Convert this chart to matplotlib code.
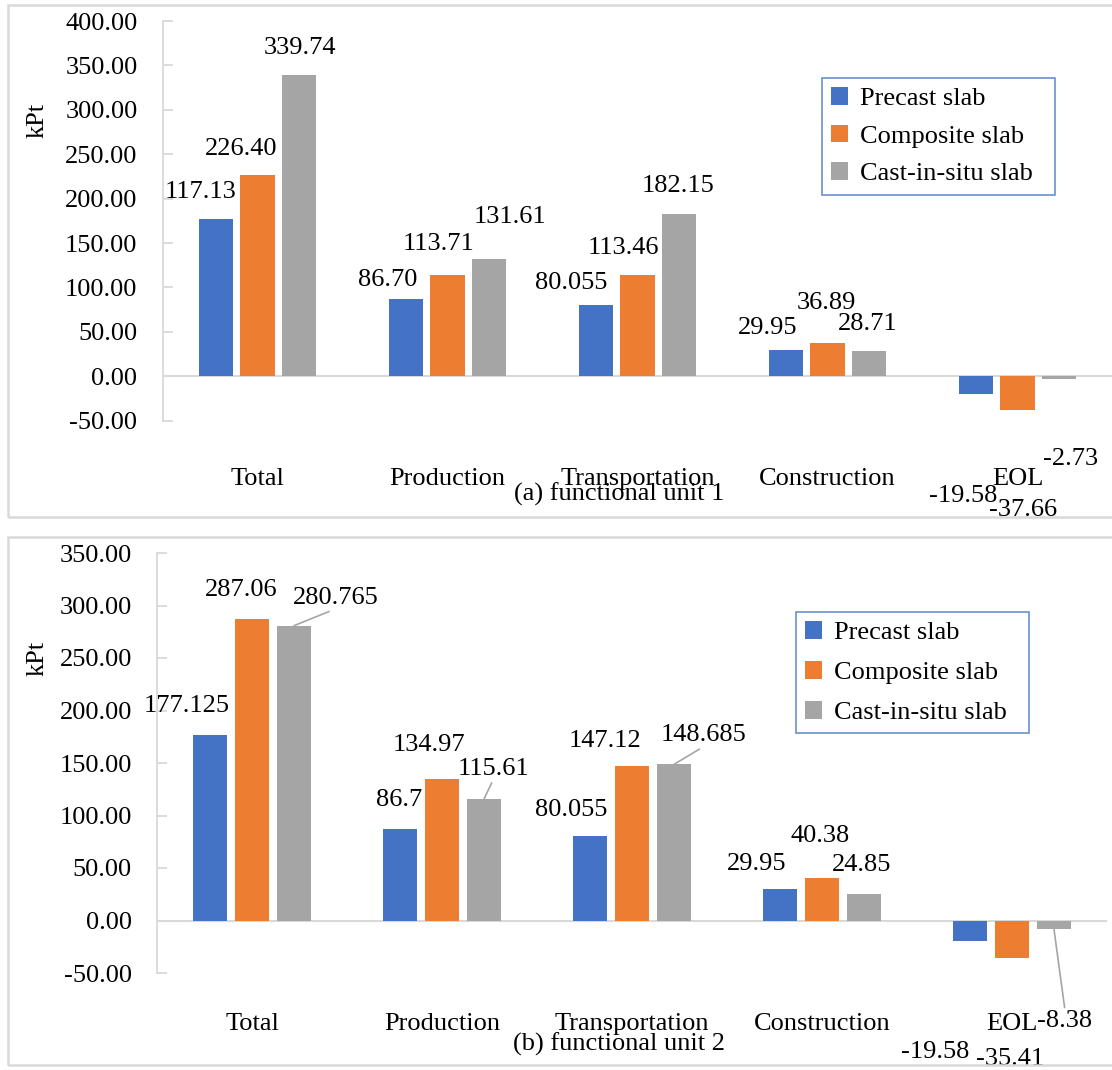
import matplotlib
matplotlib.use("Agg")
import matplotlib.pyplot as plt
from matplotlib.patches import Rectangle

plt.rcParams['font.family'] = ['Liberation Serif', 'DejaVu Serif']

categories = ["Total", "Production", "Transportation", "Construction", "EOL"]
series = ["Precast slab", "Composite slab", "Cast-in-situ slab"]
colors = ["#4472C4", "#ED7D31", "#A5A5A5"]

# Panel (a) functional unit 1
a_precast = [177.13, 86.70, 80.055, 29.95, -19.58]
a_composite = [226.40, 113.71, 113.46, 36.89, -37.66]
a_castinsitu = [339.74, 131.61, 182.15, 28.71, -2.73]
a_labels = [
    ["117.13", "86.70", "80.055", "29.95", "-19.58"],
    ["226.40", "113.71", "113.46", "36.89", "-37.66"],
    ["339.74", "131.61", "182.15", "28.71", "-2.73"],
]
a_ticks = [-50, 0, 50, 100, 150, 200, 250, 300, 350, 400]

# Panel (b) functional unit 2
b_precast = [177.125, 86.7, 80.055, 29.95, -19.58]
b_composite = [287.06, 134.97, 147.12, 40.38, -35.41]
b_castinsitu = [280.765, 115.61, 148.685, 24.85, -8.38]
b_labels = [
    ["177.125", "86.7", "80.055", "29.95", "-19.58"],
    ["287.06", "134.97", "147.12", "40.38", "-35.41"],
    ["280.765", "115.61", "148.685", "24.85", "-8.38"],
]
b_ticks = [-50, 0, 50, 100, 150, 200, 250, 300, 350]

# label offsets (pixels) from bar end, per series per category
a_offsets = [
    [(-15, 27), (-18, 19), (-24, 22), (-18, 22), (-12, -102)],
    [(-16, 26), (-9, 31), (-14, 27), (-1, 40), (6, -100)],
    [(0, 27), (20, 42), (-1, 28), (-2, 27), (11, -80)],
]
b_offsets = [
    [(-23, 29), (-1, 29), (-19, 26), (-23, 25), (-35, -111)],
    [(-11, 29), (-13, 34), (-27, 25), (-2, 42), (-2, -101)],
    [(42, 28), (9, 30), (30, 29), (-2, 29), (11, -92)],
]
a_leaders = [[False]*5, [False]*5, [False]*5]
b_leaders = [[False]*5, [False]*5, [True, True, True, False, True]]

W, H = 1112, 1070
fig = plt.figure(figsize=(W/100, H/100), dpi=100)

FS = 19
BW = 0.179
OFF = 0.221
grid_c = "#D9D9D9"

def fig_rect(x0, y0, x1, y1):
    # pixel coords (top-left origin) -> figure fraction
    return [x0 / W, 1 - y1 / H, (x1 - x0) / W, (y1 - y0) / H]

def draw_panel(rect, vals, labels, offsets, leaders, ticks, ylim, leg_rect, leg_sp,
               xpad, cap, cap_y, kpt_xy):
    ax = fig.add_axes(fig_rect(*rect))
    x = list(range(len(categories)))
    bars = []
    for s, (v, c) in enumerate(zip(vals, colors)):
        xs = [xi + (s - 1) * OFF for xi in x]
        b = ax.bar(xs, v, width=BW, color=c, label=series[s], zorder=3)
        bars.append(b)
        for i in range(len(x)):
            dx, dy = offsets[s][i]
            kw = {}
            if leaders[s][i]:
                rel = (0.5, 0.0) if v[i] >= 0 else (0.5, 1.0)
                kw['arrowprops'] = dict(arrowstyle='-', color='#A5A5A5', lw=1.2,
                                        shrinkA=0, shrinkB=0, relpos=rel)
            ax.annotate(labels[s][i], xy=(xs[i], v[i]), xytext=(dx, dy),
                        textcoords='offset pixels', ha='center', va='center',
                        fontsize=FS, color='black', zorder=5, annotation_clip=False, **kw)
    ax.set_xlim(-0.5, len(categories) - 0.5)
    ax.set_ylim(*ylim)
    ax.set_yticks(ticks)
    ax.set_yticklabels([f"{t:.2f}" for t in ticks], fontsize=FS)
    ax.tick_params(axis='y', direction='in', length=7, color=grid_c, width=1.3, pad=18)
    ax.set_xticks(x)
    ax.set_xticklabels(categories, fontsize=FS)
    ax.tick_params(axis='x', length=0, pad=xpad)
    for sp in ['top', 'right', 'bottom']:
        ax.spines[sp].set_visible(False)
    ax.spines['left'].set_color(grid_c)
    ax.spines['left'].set_linewidth(1.3)
    ax.axhline(0, color=grid_c, lw=1.5, zorder=2)
    ax.patch.set_alpha(0)
    # legend
    lx0, ly0, lx1, ly1 = leg_rect
    leg = ax.legend(handles=bars, labels=series, loc='upper left',
                    bbox_to_anchor=(lx0 / W, 1 - ly1 / H, (lx1 - lx0) / W, (ly1 - ly0) / H),
                    bbox_transform=fig.transFigure, mode='expand', fontsize=FS,
                    frameon=True, fancybox=False, handlelength=0.65, handleheight=0.65,
                    handletextpad=0.45, labelspacing=leg_sp, borderpad=0.35,
                    borderaxespad=0)
    leg.get_frame().set_edgecolor('#4472C4')
    leg.get_frame().set_linewidth(1.2)
    fig.text(cap[0] / W, 1 - cap_y / H, cap[1], ha='center', va='center', fontsize=FS)
    fig.text(kpt_xy[0] / W, 1 - kpt_xy[1] / H, "kPt", rotation=90, ha='center', va='center', fontsize=FS)
    return ax

# panel borders
for (x0, y0, x1, y1) in [(8, 5, 1125, 517), (8, 537, 1125, 1065)]:
    fig.add_artist(Rectangle((x0 / W, 1 - y1 / H), (x1 - x0) / W, (y1 - y0) / H,
                             transform=fig.transFigure, fill=False, edgecolor=grid_c, lw=1.8))

draw_panel((162.5, 21, 1112.5, 420.6), [a_precast, a_composite, a_castinsitu], a_labels,
           a_offsets, a_leaders, a_ticks, (-50, 400), (822, 78, 1055, 194), 0.55, 34,
           (619, "(a) functional unit 1"), 494, (37.5, 120))
draw_panel((157, 553, 1107, 973), [b_precast, b_composite, b_castinsitu], b_labels,
           b_offsets, b_leaders, b_ticks, (-50, 350), (795.5, 612, 1028.5, 736), 0.64, 29,
           (619, "(b) functional unit 2"), 1044, (37.5, 658))

fig.savefig("out.png", dpi=100)
